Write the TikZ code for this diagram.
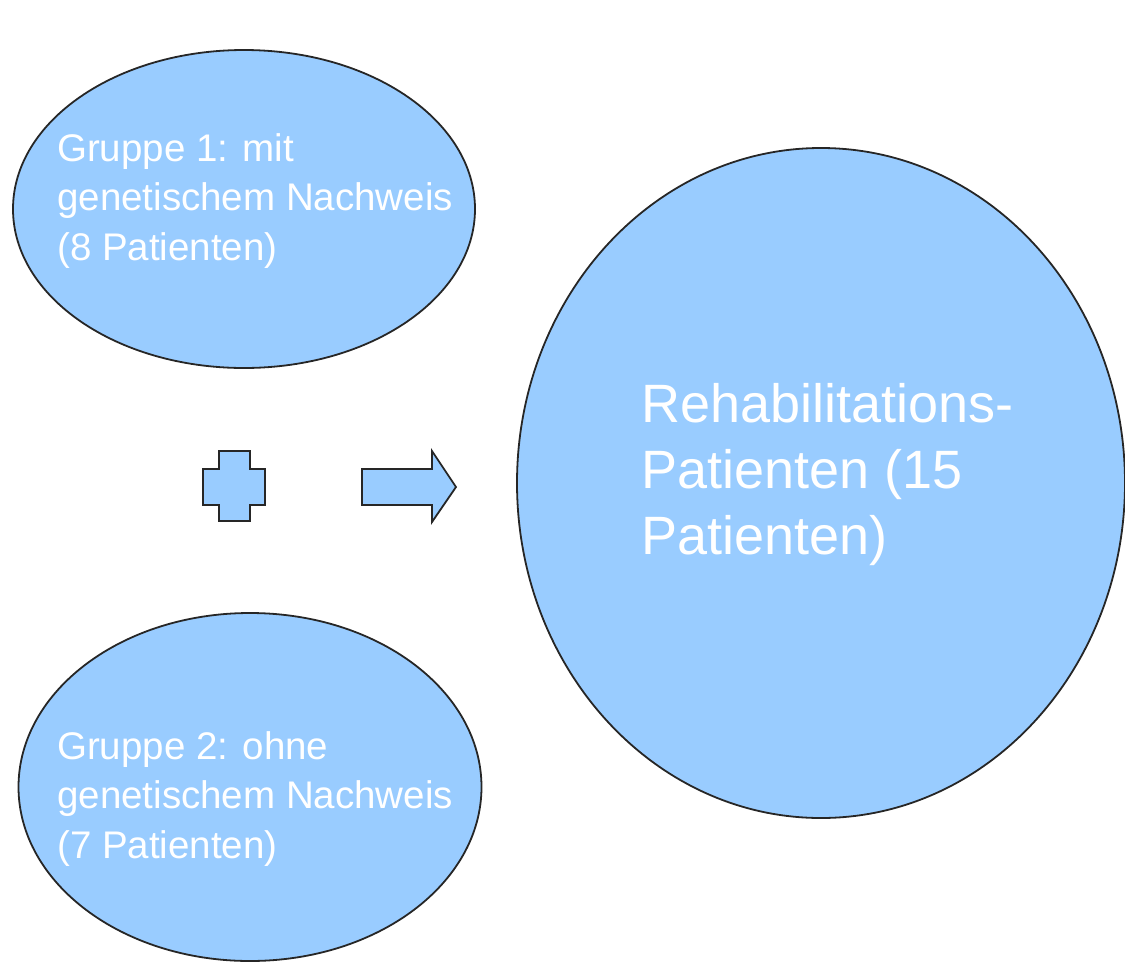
\documentclass[tikz,border=0pt]{standalone}
\usepackage{fontspec}
\setmainfont{Liberation Sans}
\usepackage{color, xcolor}
\usepackage{tikz}
\usetikzlibrary{positioning}
\definecolor{lightsky}{HTML}{99CCFF}
\tikzset{
  blob/.style={draw=black!85, fill=lightsky, line width=1.8pt},
  grptext/.style={text=white, align=left, inner sep=0pt, anchor=base west, font=\fontsize{38.5}{49.5}\selectfont},
  rehatext/.style={text=white, align=left, inner sep=0pt, anchor=base west, font=\fontsize{54}{66}\selectfont}
}
\begin{document}
\begin{tikzpicture}[x=1pt, y=-1pt]
    \useasboundingbox (0,0) rectangle (1125,962);
    \draw[blob] (244,209) ellipse (231 and 159);
    \draw[blob] (250,787) ellipse (231.5 and 174);
    \draw[blob] (821,483) ellipse (304 and 335);
    \draw[blob, line join=miter] (219,451) -- (250,451) -- (250,469) -- (265,469) -- (265,505) -- (250,505)
        -- (250,521) -- (219,521) -- (219,505) -- (203,505) -- (203,469) -- (219,469) -- cycle;
    \draw[blob, line join=miter] (362,469) -- (432,469) -- (432,451) -- (456,487) -- (432,522) -- (432,505)
        -- (362,505) -- cycle;
    \node[grptext] (gruppe1) at (57,260) {Gruppe 1: mit\\genetischem Nachweis\\(8 Patienten)};
    \node[grptext] (gruppe2) at (57,858) {Gruppe 2: ohne\\genetischem Nachweis\\(7 Patienten)};
    \node[rehatext] (reha) at (641,554) {Rehabilitations-\\Patienten (15\\Patienten)};
  \end{tikzpicture}
\end{document}
